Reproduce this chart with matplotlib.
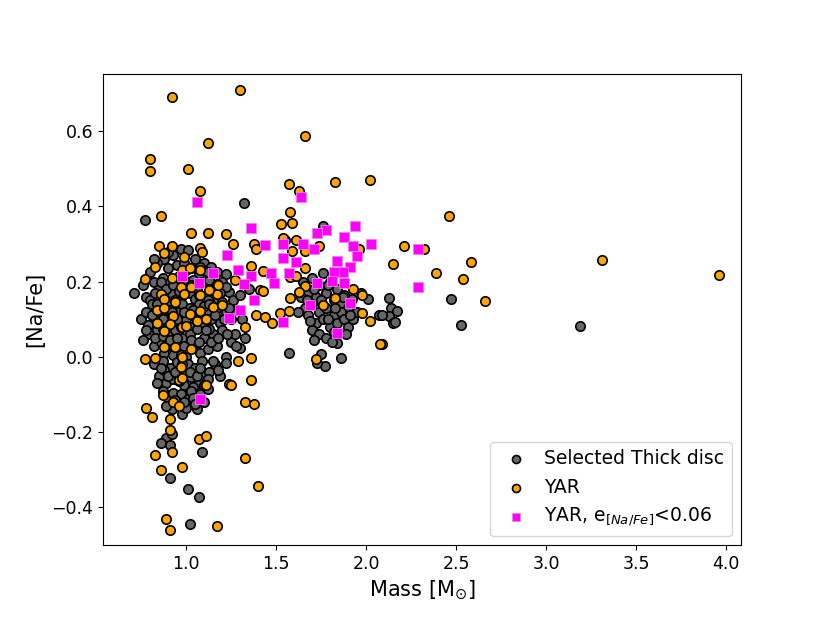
import matplotlib.pyplot as plt

# --- Selected thick disc (grey) ---
thick_mass = [
    0.97, 1.01, 0.93, 0.88, 1.05, 1.10, 1.14, 0.95, 0.84, 1.00, 0.90, 1.07, 0.80, 1.17, 1.22,
    0.71, 0.76, 0.78, 0.82, 0.85, 0.87, 0.90, 0.92, 0.95, 0.97, 1.00, 1.02, 1.04, 1.06, 1.09,
    1.11, 1.14, 1.16, 1.20, 1.24, 1.26, 1.22, 0.80, 0.88, 0.94, 1.05, 1.12, 1.18, 1.30, 1.35,
    0.75, 0.78, 0.81, 0.83, 0.86, 0.89, 0.91, 0.93, 0.96, 0.98, 1.00, 1.02, 1.05, 1.07, 1.09,
    1.12, 1.14, 1.17, 1.19, 1.22, 1.25, 1.28, 1.31, 0.79, 0.85, 0.95, 1.03, 1.10, 1.20, 0.90,
    0.76, 0.80, 0.82, 0.84, 0.86, 0.88, 0.90, 0.92, 0.94, 0.96, 0.98, 1.00, 1.02, 1.04, 1.06,
    1.08, 1.10, 1.12, 1.15, 1.17, 1.20, 1.22, 1.25, 1.27, 1.30, 1.33, 0.87, 0.97, 1.13, 0.93,
    0.82, 0.85, 0.87, 0.89, 0.91, 0.93, 0.95, 0.97, 0.99, 1.01, 1.03, 1.05, 1.07, 1.09, 1.11,
    1.13, 1.16, 1.19, 1.22, 0.88, 0.96, 1.04, 1.10, 0.84,
    0.87, 0.90, 0.93, 0.95, 0.97, 0.98, 1.01, 1.03, 1.06, 1.08, 1.00, 0.92, 1.10, 1.12,
    0.89, 0.86, 0.91, 0.92, 1.09, 0.91, 1.01, 1.07, 1.02, 0.77, 1.32, 1.57,
    0.83, 0.86, 0.89, 0.93, 0.96, 0.99, 1.03, 1.07, 1.13, 1.19,
    0.81, 0.84, 0.87, 0.92, 0.95, 0.99, 1.04, 1.08, 1.13, 1.16, 1.21, 1.24,
    0.78, 0.83, 0.87, 0.91, 0.95, 0.99, 1.03, 1.07, 1.11, 1.14, 1.18, 1.23, 1.28,
    0.86, 0.90, 0.94, 0.98, 1.02, 1.06, 1.08, 1.12, 1.15, 1.18,
    0.89, 0.94, 0.99, 1.04, 1.05, 0.82, 0.90, 0.99, 1.08, 1.12,
    1.76, 1.65, 1.68, 1.70, 1.72, 1.74, 1.78, 1.80, 1.82, 1.84, 1.86, 1.88, 1.90, 1.92, 1.66,
    1.68, 1.70, 1.72, 1.74, 1.76, 1.78, 1.80, 1.82, 1.84, 1.86, 1.88, 1.90, 1.93, 1.95, 1.64,
    1.62, 1.70, 1.74, 1.78, 1.82, 1.89, 1.84, 1.71, 1.86, 1.75, 1.77, 1.73, 1.97, 2.01, 2.07,
    1.67, 1.71, 1.75, 1.79, 1.83, 1.87, 1.91, 1.79, 1.69, 1.81,
    1.76, 2.13, 2.14, 2.17, 2.13, 2.09, 2.15, 2.16, 2.47, 2.53, 3.19,
]
thick_nafe = [
    0.288, 0.284, 0.270, 0.260, 0.260, 0.250, 0.240, 0.245, 0.250, 0.230, 0.235, 0.220, 0.225, 0.225, 0.220,
    0.170, 0.190, 0.160, 0.200, 0.180, 0.210, 0.195, 0.170, 0.200, 0.160, 0.190, 0.170, 0.205, 0.180, 0.200,
    0.160, 0.190, 0.175, 0.200, 0.172, 0.150, 0.185, 0.150, 0.155, 0.150, 0.155, 0.150, 0.155, 0.165, 0.180,
    0.100, 0.120, 0.140, 0.100, 0.130, 0.110, 0.140, 0.090, 0.120, 0.140, 0.100, 0.130, 0.110, 0.140, 0.090,
    0.120, 0.100, 0.130, 0.090, 0.120, 0.100, 0.124, 0.100, 0.085, 0.080, 0.085, 0.080, 0.135, 0.145, 0.125,
    0.044, 0.060, 0.030, 0.070, 0.040, 0.010, 0.060, 0.030, 0.070, 0.020, 0.050, 0.000, 0.060, 0.030, 0.075,
    0.010, 0.050, 0.020, 0.060, 0.030, 0.070, 0.000, 0.040, 0.060, 0.023, 0.050, 0.075, 0.080, 0.075, 0.005,
    -0.020, -0.050, -0.010, -0.070, -0.030, -0.060, -0.015, -0.045, -0.075, -0.020, -0.055, -0.030, -0.070, -0.010, -0.045,
    -0.040, -0.020, -0.050, -0.017, -0.035, -0.065, -0.080, -0.075, -0.070,
    -0.090, -0.110, -0.095, -0.130, -0.100, -0.153, -0.113, -0.090, -0.140, -0.100, -0.135, -0.140, -0.120, -0.085,
    -0.216, -0.230, -0.235, -0.206, -0.254, -0.322, -0.352, -0.374, -0.444, 0.364, 0.410, 0.010,
    0.170, 0.200, 0.180, 0.190, 0.175, 0.205, 0.190, 0.165, 0.205, 0.170,
    0.110, 0.140, 0.100, 0.120, 0.100, 0.120, 0.125, 0.110, 0.140, 0.110, 0.100, 0.130,
    0.070, 0.050, 0.055, 0.045, 0.050, 0.030, 0.045, 0.040, 0.070, 0.040, 0.050, 0.060, 0.030,
    -0.030, -0.050, -0.040, -0.020, -0.040, -0.050, -0.030, -0.060, -0.010, -0.035,
    -0.130, -0.115, -0.120, -0.110, -0.125, 0.260, 0.280, 0.250, 0.240, 0.225,
    0.222, 0.200, 0.170, 0.210, 0.160, 0.190, 0.170, 0.200, 0.150, 0.180, 0.140, 0.165, 0.130, 0.155, 0.130,
    0.110, 0.140, 0.090, 0.120, 0.100, 0.130, 0.080, 0.110, 0.090, 0.120, 0.100, 0.080, 0.100, 0.120, 0.160,
    0.120, 0.070, 0.060, 0.050, 0.065, 0.060, 0.037, 0.044, -0.003, 0.007, -0.025, -0.017, 0.169, 0.153, 0.111,
    0.150, 0.180, 0.150, 0.190, 0.130, 0.160, 0.110, 0.100, 0.095, 0.040,
    0.347, 0.156, 0.129, 0.123, 0.108, 0.111, 0.090, 0.092, 0.153, 0.084, 0.081,
]

# --- YAR (orange) ---
yar_mass = [
    0.92, 1.30, 0.80, 0.80, 1.01, 1.12, 1.66, 1.08, 1.57, 1.63, 1.58, 1.53, 1.59, 0.86, 1.03,
    1.12, 1.22, 1.83, 2.02, 2.46,
    2.21, 2.32, 2.15, 2.58, 2.39, 2.54, 2.66, 2.09, 3.31, 3.96,
    1.74, 1.66, 1.96, 1.66, 1.66, 1.93, 1.98, 1.83, 1.76, 1.98, 2.02, 2.08, 1.72, 1.63, 1.55,
    1.61, 1.59, 1.38, 1.39, 1.58, 1.61, 1.43, 1.41, 1.54, 1.36, 1.43, 1.58, 1.39, 1.44, 1.48,
    1.52, 1.57, 1.33, 1.29, 1.36, 1.36, 1.24, 1.11, 0.96, 0.77, 0.83, 1.27, 1.26, 1.08, 1.09,
    0.99, 1.08, 1.03, 1.17,
    0.85, 0.92, 0.88, 0.83, 0.77, 0.86, 0.88, 0.94, 0.84, 0.88, 0.93, 0.84, 0.91, 0.88, 0.98,
    1.00, 1.02, 1.08, 1.06, 1.11, 1.15, 1.20, 1.17, 1.13, 1.03, 0.97, 0.99, 1.08, 0.96, 0.98,
    1.02, 0.92, 0.88, 0.94, 1.03, 0.97, 0.98, 0.97, 0.98, 1.18,
    0.87, 0.93, 0.96, 0.78, 0.81, 0.91, 0.91, 1.07, 1.11, 0.83, 0.92, 0.98, 0.86, 1.33, 1.40,
    1.33, 1.38, 1.25, 0.89, 0.91, 1.17,
]
yar_nafe = [
    0.690, 0.711, 0.525, 0.495, 0.500, 0.568, 0.587, 0.440, 0.459, 0.440, 0.385, 0.353, 0.355, 0.374, 0.330,
    0.330, 0.326, 0.464, 0.470, 0.374,
    0.294, 0.286, 0.246, 0.251, 0.222, 0.206, 0.148, 0.034, 0.257, 0.217,
    0.296, 0.281, 0.286, 0.235, 0.188, 0.180, 0.164, 0.156, 0.137, 0.116, 0.095, 0.034, -0.006, 0.172, 0.312,
    0.310, 0.281, 0.299, 0.286, 0.212, 0.214, 0.227, 0.179, 0.315, 0.241, 0.175, 0.156, 0.111, 0.105, 0.090,
    0.116, 0.122, 0.079, -0.011, -0.003, -0.062, -0.073, -0.075, -0.062, -0.007, -0.003, 0.204, 0.299, 0.289, 0.280,
    0.265, 0.232, 0.235, 0.193,
    0.294, 0.294, 0.275, 0.238, 0.206, 0.168, 0.153, 0.146, 0.124, 0.129, 0.108, 0.089, 0.087, 0.068, 0.078,
    0.083, 0.113, 0.122, 0.095, 0.100, 0.132, 0.137, 0.168, 0.179, 0.185, 0.185, 0.168, 0.164, 0.214, 0.230,
    0.235, 0.209, 0.026, 0.026, 0.020, 0.004, -0.001, -0.028, -0.057, 0.190,
    -0.102, -0.120, -0.131, -0.137, -0.160, -0.166, -0.195, -0.219, -0.210, -0.262, -0.254, -0.293, -0.301, -0.270, -0.344,
    -0.121, -0.126, -0.076, -0.432, -0.461, -0.450,
]

# --- YAR with e[Na/Fe] < 0.06 (magenta) ---
prec_mass = [
    1.06, 1.64, 1.36, 1.94, 1.78, 1.73, 1.88, 1.93, 2.03, 1.65, 1.71, 1.95, 1.84, 1.91, 1.87,
    1.82, 1.81, 1.88, 1.73, 2.29, 2.29, 1.91, 1.69, 1.84, 1.23, 1.44, 1.54, 1.54, 1.61, 0.98,
    1.07, 1.15, 1.29, 1.36, 1.32, 1.47, 1.57, 1.49, 1.38, 1.30, 1.24, 1.54, 1.08,
]
prec_nafe = [
    0.413, 0.425, 0.342, 0.347, 0.337, 0.330, 0.318, 0.294, 0.299, 0.299, 0.286, 0.267, 0.254, 0.238, 0.225,
    0.225, 0.201, 0.196, 0.196, 0.286, 0.185, 0.142, 0.137, 0.063, 0.270, 0.297, 0.300, 0.262, 0.251, 0.215,
    0.197, 0.222, 0.230, 0.215, 0.193, 0.222, 0.222, 0.196, 0.150, 0.124, 0.103, 0.092, -0.113,
]

fig = plt.figure(figsize=(8.3, 6.23), dpi=100)
ax = fig.add_axes([0.124, 0.125, 0.769, 0.756])

ax.scatter(thick_mass, thick_nafe, s=46, c="#666666", edgecolors="black", linewidths=1.2,
           label="Selected Thick disc", zorder=2)
ax.scatter(yar_mass, yar_nafe, s=46, c="orange", edgecolors="black", linewidths=1.2,
           label="YAR", zorder=3)
ax.scatter(prec_mass, prec_nafe, s=46, marker="s", c="magenta", edgecolors="violet", linewidths=0.6,
           label=r"YAR, e$_{[Na/Fe]}$<0.06", zorder=4)

ax.set_xlim(0.539, 4.083)
ax.set_ylim(-0.501, 0.752)
ax.set_xticks([1.0, 1.5, 2.0, 2.5, 3.0, 3.5, 4.0])
ax.set_yticks([-0.4, -0.2, 0.0, 0.2, 0.4, 0.6])
ax.tick_params(labelsize=12.5)
ax.set_xlabel(r"Mass [M$_{\odot}$]", fontsize=15)
ax.set_ylabel("[Na/Fe]", fontsize=15)

ax.legend(loc="lower right", fontsize=13.5, markerscale=0.85, handletextpad=0.5)

fig.savefig("out.png", dpi=100)
